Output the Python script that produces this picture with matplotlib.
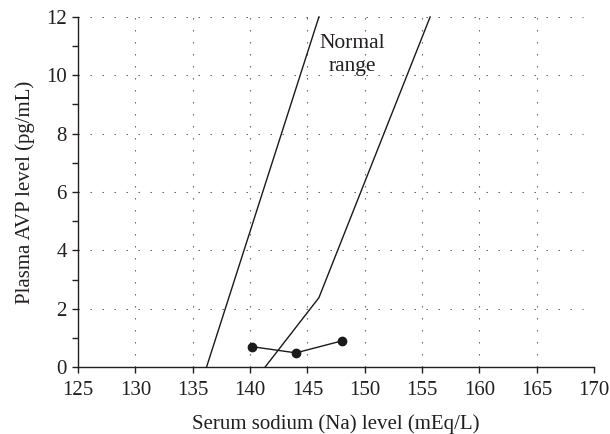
import matplotlib
matplotlib.use("Agg")
import matplotlib.pyplot as plt
import numpy as np

plt.rcParams['font.family'] = ['Liberation Serif', 'DejaVu Serif']

# Normal range boundary lines
left_x = [136.2, 146.0]
left_y = [0.0, 12.0]
right_x = [141.3, 146.0, 155.7]
right_y = [0.0, 2.38, 12.0]
# Patient data
pt_x = [140.2, 144.0, 148.0]
pt_y = [0.70, 0.49, 0.90]

xticks = [125, 130, 135, 140, 145, 150, 155, 160, 165, 170]
yticks = [0, 2, 4, 6, 8, 10, 12]

fig = plt.figure(figsize=(6.1, 4.34), dpi=100)
ax = fig.add_axes([0.128, 0.154, 0.846, 0.807])

ax.set_xlim(125, 170)
ax.set_ylim(0, 12)
ax.set_xticks(xticks)
ax.set_yticks(yticks)
ax.set_yticks(np.arange(1, 12, 2), minor=True)

grid_style = dict(color='#555555', lw=0.8, linestyle=(0, (1.2, 9.6)), zorder=0)
for x in xticks[1:]:
    ax.axvline(x, **grid_style)
for y in yticks[1:]:
    ax.plot([125, 169.0], [y, y], **grid_style)

ax.plot(left_x, left_y, color='#1a1a1a', lw=1.0, clip_on=False, zorder=3)
ax.plot(right_x, right_y, color='#1a1a1a', lw=1.0, clip_on=False, zorder=3)
ax.plot(pt_x, pt_y, color='#1a1a1a', lw=1.0, marker='o', markersize=6, zorder=4)

ax.text(148.9, 10.7, 'Normal\nrange', ha='center', va='center', fontsize=15.5,
        color='#231f20', linespacing=1.3)

for s in ['top', 'right']:
    ax.spines[s].set_visible(False)
for s in ['left', 'bottom']:
    ax.spines[s].set_linewidth(1.0)
    ax.spines[s].set_color('#231f20')

ax.tick_params(axis='both', which='both', direction='out', length=4, width=1.0,
               color='#231f20', labelsize=15, labelcolor='#231f20')
ax.tick_params(axis='x', pad=6)
ax.tick_params(axis='y', pad=4)
ax.set_xlabel('Serum sodium (Na) level (mEq/L)', fontsize=15, color='#231f20', labelpad=10)
ax.set_ylabel('Plasma AVP level (pg/mL)', fontsize=15, color='#231f20', labelpad=8)

fig.savefig('out.png', dpi=100)
